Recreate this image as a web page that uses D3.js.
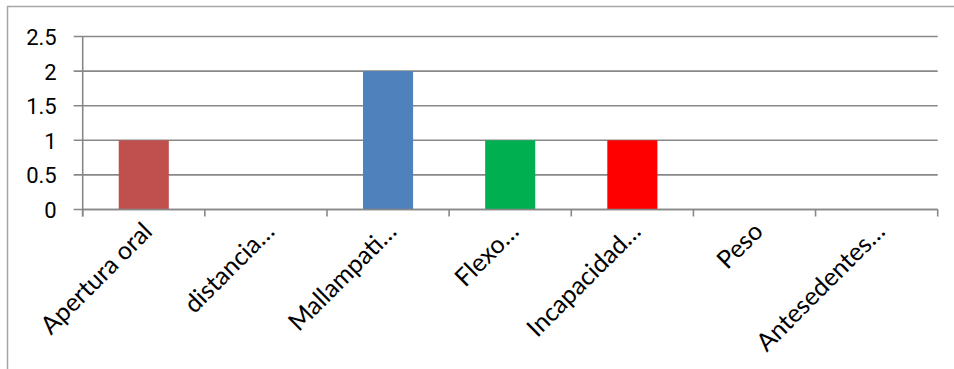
<!DOCTYPE html>
<html>
<head>
<meta charset="utf-8">
<script src="https://cdn.jsdelivr.net/npm/d3@7"></script>
<style>
  body { margin: 0; background: #fff; }
  svg { display: block; }
</style>
</head>
<body>
<div id="chart"></div>
<script>
// values
var categories = ["Apertura oral", "distancia…", "Mallampati…", "Flexo…", "Incapacidad…", "Peso", "Antesedentes…"];
var values = [1, 0, 2, 1, 1, 0, 0];
var barColors = ["#C0504D", "#4F81BD", "#4F81BD", "#00B050", "#FF0000", "#4F81BD", "#4F81BD"];
var yTicks = [0, 0.5, 1, 1.5, 2, 2.5];

var width = 954, height = 369;
var plot = {left: 82.7, right: 937.7, top: 36.5, bottom: 209.5};

var svg = d3.select("#chart").append("svg")
    .attr("width", width)
    .attr("height", height);

// outer frame (only top + left edges show in the crop)
svg.append("path")
    .attr("d", "M7.5," + height + "V6.5H" + width)
    .attr("fill", "none")
    .attr("stroke", "#a6a6a6")
    .attr("stroke-width", 1.5);

var x = d3.scaleBand()
    .domain(categories)
    .range([plot.left, plot.right])
    .padding(0);

var y = d3.scaleLinear()
    .domain([0, 2.5])
    .range([plot.bottom, plot.top]);

// gridlines, they also act as the left tick marks
svg.append("g").selectAll("line")
    .data(yTicks)
    .enter().append("line")
    .attr("x1", plot.left - 9)
    .attr("x2", plot.right)
    .attr("y1", function(d) { return y(d); })
    .attr("y2", function(d) { return y(d); })
    .attr("stroke", "#888")
    .attr("stroke-width", 1.6);

// y labels
var yAxis = d3.axisLeft(y).tickValues(yTicks).tickSize(0).tickPadding(26)
    .tickFormat(function(d) { return String(d); });
var gy = svg.append("g")
    .attr("transform", "translate(" + plot.left + ",0)")
    .call(yAxis);
gy.select(".domain").remove();
gy.selectAll("text")
    .style("font-family", "Roboto, sans-serif")
    .style("font-size", "22px")
    .attr("fill", "#000")
    .attr("dy", "0.36em");

// y axis line
svg.append("line")
    .attr("x1", plot.left).attr("x2", plot.left)
    .attr("y1", plot.top).attr("y2", plot.bottom + 7)
    .attr("stroke", "#888")
    .attr("stroke-width", 1.6);

// x axis tick marks at band edges
var edges = categories.map(function(d) { return x(d); }).concat([plot.right]);
svg.append("g").selectAll("line")
    .data(edges)
    .enter().append("line")
    .attr("x1", function(d) { return d; })
    .attr("x2", function(d) { return d; })
    .attr("y1", plot.bottom)
    .attr("y2", plot.bottom + 7)
    .attr("stroke", "#888")
    .attr("stroke-width", 1.6);

// bars
var barW = x.bandwidth() * 0.41;
svg.append("g").selectAll("rect")
    .data(values)
    .enter().append("rect")
    .attr("x", function(d, i) { return x(categories[i]) + x.bandwidth() / 2 - barW / 2; })
    .attr("y", function(d) { return y(d); })
    .attr("width", barW)
    .attr("height", function(d) { return y(0) - y(d); })
    .attr("fill", function(d, i) { return barColors[i]; });

// x axis line drawn over bar bottoms
svg.append("line")
    .attr("x1", plot.left).attr("x2", plot.right)
    .attr("y1", plot.bottom).attr("y2", plot.bottom)
    .attr("stroke", "#888")
    .attr("stroke-width", 1.6);

// rotated category labels
svg.append("g").selectAll("text")
    .data(categories)
    .enter().append("text")
    .attr("transform", function(d) {
        var cx = x(d) + x.bandwidth() / 2 + 10;
        return "translate(" + cx + ",233) rotate(-45)";
    })
    .attr("text-anchor", "end")
    .style("font-family", "Lato, sans-serif")
    .style("font-size", "25px")
    .attr("fill", "#000")
    .text(function(d) { return d; });
</script>
</body>
</html>
